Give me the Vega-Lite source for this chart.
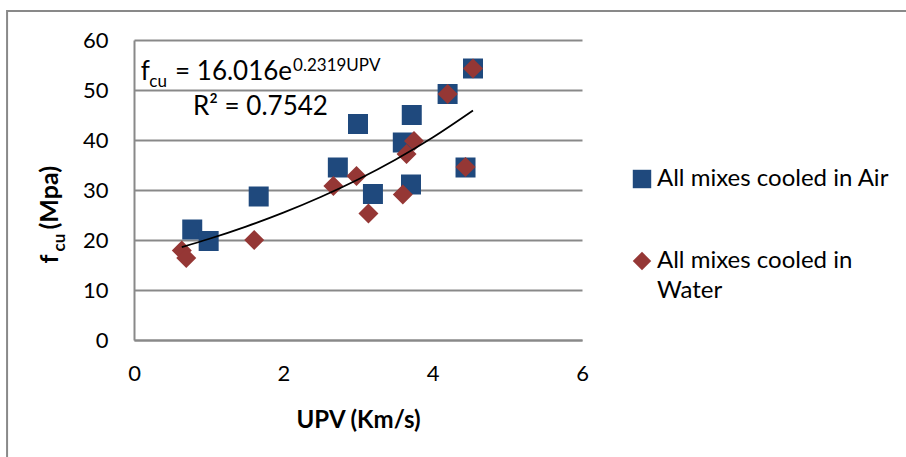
{
  "$schema": "https://vega.github.io/schema/vega-lite/v6.json",
  "width": 448,
  "height": 300,
  "autosize": {"type": "none"},
  "padding": {"left": 134, "top": 40, "right": 324, "bottom": 117},
  "background": "white",
  "config": {
    "font": "Lato",
    "view": {"stroke": null},
    "style": {"guide-label": {"lineHeight": 30}}
  },
  "datasets": {
    "strength": [
      {"upv": 0.78, "fcu": 22.1, "series": "All mixes cooled in Air"},
      {"upv": 1.00, "fcu": 19.8, "series": "All mixes cooled in Air"},
      {"upv": 1.67, "fcu": 28.7, "series": "All mixes cooled in Air"},
      {"upv": 2.73, "fcu": 34.5, "series": "All mixes cooled in Air"},
      {"upv": 3.00, "fcu": 43.2, "series": "All mixes cooled in Air"},
      {"upv": 3.20, "fcu": 29.2, "series": "All mixes cooled in Air"},
      {"upv": 3.60, "fcu": 39.5, "series": "All mixes cooled in Air"},
      {"upv": 3.72, "fcu": 45.0, "series": "All mixes cooled in Air"},
      {"upv": 3.71, "fcu": 31.1, "series": "All mixes cooled in Air"},
      {"upv": 4.20, "fcu": 49.2, "series": "All mixes cooled in Air"},
      {"upv": 4.44, "fcu": 34.5, "series": "All mixes cooled in Air"},
      {"upv": 4.54, "fcu": 54.3, "series": "All mixes cooled in Air"},
      {"upv": 0.64, "fcu": 17.9, "series": "All mixes cooled in Water"},
      {"upv": 0.70, "fcu": 16.4, "series": "All mixes cooled in Water"},
      {"upv": 1.61, "fcu": 20.0, "series": "All mixes cooled in Water"},
      {"upv": 2.67, "fcu": 30.8, "series": "All mixes cooled in Water"},
      {"upv": 2.98, "fcu": 32.8, "series": "All mixes cooled in Water"},
      {"upv": 3.14, "fcu": 25.3, "series": "All mixes cooled in Water"},
      {"upv": 3.60, "fcu": 29.1, "series": "All mixes cooled in Water"},
      {"upv": 3.65, "fcu": 37.2, "series": "All mixes cooled in Water"},
      {"upv": 3.75, "fcu": 39.8, "series": "All mixes cooled in Water"},
      {"upv": 4.20, "fcu": 49.2, "series": "All mixes cooled in Water"},
      {"upv": 4.44, "fcu": 34.6, "series": "All mixes cooled in Water"},
      {"upv": 4.54, "fcu": 54.3, "series": "All mixes cooled in Water"}
    ],
    "trend": [
      {"upv": 0.64, "fcu": 18.58},
      {"upv": 1.0, "fcu": 20.20},
      {"upv": 1.5, "fcu": 22.68},
      {"upv": 2.0, "fcu": 25.47},
      {"upv": 2.5, "fcu": 28.60},
      {"upv": 3.0, "fcu": 32.11},
      {"upv": 3.5, "fcu": 36.06},
      {"upv": 4.0, "fcu": 40.50},
      {"upv": 4.54, "fcu": 45.90}
    ],
    "equation": [
      {"upv": 0.09, "fcu": 52.0, "text": "f"},
      {"upv": 0.55, "fcu": 52.0, "text": "= 16.016e"},
      {"upv": 0.79, "fcu": 45.0, "text": "R² = 0.7542"}
    ],
    "equationSmall": [
      {"upv": 0.205, "fcu": 50.7, "text": "cu"},
      {"upv": 2.13, "fcu": 53.9, "text": "0.2319UPV"}
    ]
  },
  "resolve": {"axis": {"x": "independent", "y": "independent"}},
  "layer": [
    {
      "data": {"name": "strength"},
      "mark": {"type": "point", "filled": true, "size": 400, "opacity": 1, "strokeWidth": 0},
      "encoding": {
        "x": {
          "field": "upv",
          "type": "quantitative",
          "scale": {"domain": [0, 6], "nice": false, "zero": false},
          "axis": {
            "orient": "bottom",
            "values": [0, 2, 4, 6],
            "grid": false,
            "ticks": false,
            "tickSize": 0,
            "domainColor": "#898989",
            "domainWidth": 2,
            "labelFontSize": 22,
            "labelColor": "#000000",
            "labelPadding": 23,
            "labelFlush": false,
            "title": "UPV (Km/s)",
            "titleFontSize": 24,
            "titleFontWeight": "bold",
            "titleColor": "#000000",
            "titleY": 80,
            "titleBaseline": "middle"
          }
        },
        "y": {
          "field": "fcu",
          "type": "quantitative",
          "scale": {"domain": [0, 60], "nice": false, "zero": false},
          "axis": {
            "orient": "left",
            "values": [0, 10, 20, 30, 40, 50, 60],
            "grid": true,
            "gridColor": "#898989",
            "gridWidth": 2,
            "ticks": false,
            "tickSize": 0,
            "domainColor": "#898989",
            "domainWidth": 2,
            "labelFontSize": 22,
            "labelColor": "#000000",
            "labelPadding": 26,
            "labelFlush": false,
            "title": "f",
            "titleFontSize": 25,
            "titleFontWeight": "bold",
            "titleColor": "#000000",
            "titleAngle": 270,
            "titleAlign": "left",
            "titleBaseline": "alphabetic",
            "titleX": -77,
            "titleY": 223
          }
        },
        "color": {
          "field": "series",
          "type": "nominal",
          "scale": {
            "domain": ["All mixes cooled in Air", "All mixes cooled in Water"],
            "range": ["#1F497D", "#953735"]
          },
          "legend": {
            "title": null,
            "orient": "none",
            "legendX": 496,
            "legendY": 127,
            "labelFontSize": 24,
            "labelColor": "#000000",
            "labelLimit": 400,
            "labelOffset": 3,
            "symbolSize": 340,
            "symbolStrokeWidth": 0,
            "rowPadding": 58,
            "labelExpr": "datum.label == 'All mixes cooled in Water' ? ['All mixes cooled in', 'Water'] : datum.label"
          }
        },
        "shape": {
          "field": "series",
          "type": "nominal",
          "scale": {
            "domain": ["All mixes cooled in Air", "All mixes cooled in Water"],
            "range": ["square", "diamond"]
          }
        }
      }
    },
    {
      "data": {"values": [{}]},
      "mark": {"type": "rect", "fillOpacity": 0, "stroke": "#898989", "strokeWidth": 2},
      "encoding": {
        "x": {"datum": -1.7, "type": "quantitative", "axis": null},
        "x2": {"datum": 12},
        "y": {"datum": 65.8, "type": "quantitative", "axis": null},
        "y2": {"datum": -30}
      }
    },
    {
      "data": {"name": "trend"},
      "mark": {"type": "line", "color": "#000000", "strokeWidth": 1.75, "interpolate": "monotone"},
      "encoding": {
        "x": {"field": "upv", "type": "quantitative", "axis": null},
        "y": {
          "field": "fcu",
          "type": "quantitative",
          "axis": {
            "orient": "left",
            "labels": false,
            "grid": false,
            "domain": false,
            "ticks": false,
            "tickSize": 0,
            "title": "cu",
            "titleFontSize": 17,
            "titleFontWeight": "bold",
            "titleColor": "#000000",
            "titleAngle": 270,
            "titleAlign": "left",
            "titleBaseline": "alphabetic",
            "titleX": -70,
            "titleY": 211
          }
        }
      }
    },
    {
      "data": {"name": "equation"},
      "mark": {"type": "text", "align": "left", "baseline": "alphabetic", "fontSize": 26, "color": "#000000"},
      "encoding": {
        "x": {"field": "upv", "type": "quantitative", "axis": null},
        "y": {
          "field": "fcu",
          "type": "quantitative",
          "axis": {
            "orient": "left",
            "labels": false,
            "grid": false,
            "domain": false,
            "ticks": false,
            "tickSize": 0,
            "title": "(Mpa)",
            "titleFontSize": 25,
            "titleFontWeight": "bold",
            "titleColor": "#000000",
            "titleAngle": 270,
            "titleAlign": "left",
            "titleBaseline": "alphabetic",
            "titleX": -77,
            "titleY": 189
          }
        },
        "text": {"field": "text"}
      }
    },
    {
      "data": {"name": "equationSmall"},
      "mark": {"type": "text", "align": "left", "baseline": "alphabetic", "fontSize": 17, "color": "#000000"},
      "encoding": {
        "x": {"field": "upv", "type": "quantitative", "axis": null},
        "y": {"field": "fcu", "type": "quantitative", "axis": null},
        "text": {"field": "text"}
      }
    }
  ]
}
